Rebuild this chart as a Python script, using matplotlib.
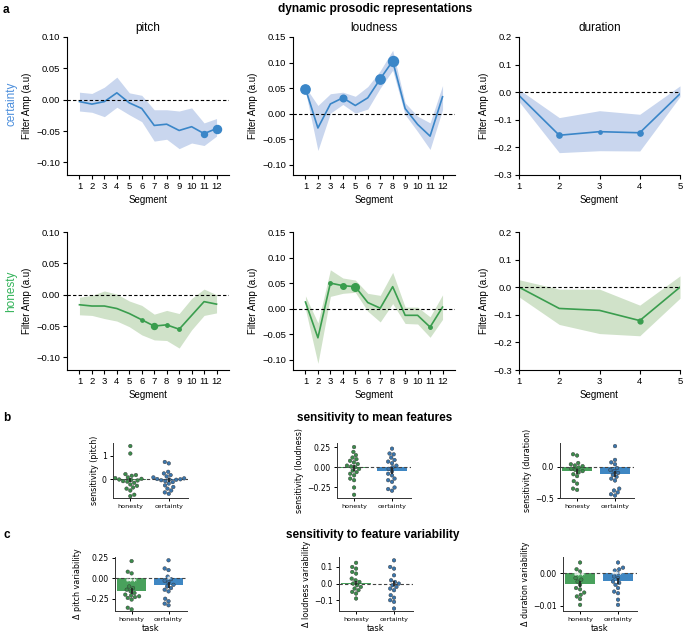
import numpy as np
import pandas as pd
import matplotlib
matplotlib.use('Agg')
import matplotlib.pyplot as plt
import seaborn as sns

# ---------------- data: temporal filters (mean, upper, lower) ----------------
seg12 = np.arange(1, 13)
seg5 = np.arange(1, 6)

cert_pitch = [-0.003, -0.007, -0.003, 0.011, -0.005, -0.014, -0.041, -0.039, -0.049, -0.043, -0.054, -0.046]
cert_pitch_hi = [0.012, 0.010, 0.020, 0.036, 0.011, 0.007, -0.016, -0.016, -0.018, -0.013, -0.037, -0.030]
cert_pitch_lo = [-0.018, -0.020, -0.027, -0.012, -0.024, -0.035, -0.066, -0.063, -0.078, -0.069, -0.073, -0.058]
cert_pitch_sig = {11: 4.3, 12: 5.8}

cert_loud = [0.049, -0.028, 0.019, 0.031, 0.016, 0.031, 0.068, 0.103, 0.010, -0.021, -0.044, 0.033]
cert_loud_hi = [0.052, 0.016, 0.039, 0.042, 0.034, 0.053, 0.084, 0.124, 0.021, -0.005, -0.018, 0.055]
cert_loud_lo = [0.044, -0.072, 0.001, 0.018, 0.001, 0.009, 0.050, 0.085, -0.002, -0.035, -0.070, 0.008]
cert_loud_sig = {1: 6.7, 4: 4.8, 7: 6.7, 8: 7.2}

cert_dur = [-0.012, -0.156, -0.143, -0.147, -0.006]
cert_dur_hi = [0.010, -0.092, -0.067, -0.080, 0.023]
cert_dur_lo = [-0.034, -0.219, -0.212, -0.213, -0.016]
cert_dur_sig = {2: 3.8, 3: 2.4, 4: 3.8}

hon_pitch = [-0.016, -0.018, -0.018, -0.022, -0.030, -0.040, -0.050, -0.048, -0.055, -0.033, -0.011, -0.015]
hon_pitch_hi = [-0.004, -0.001, 0.006, 0.001, -0.010, -0.017, -0.031, -0.025, -0.030, -0.006, 0.009, 0.000]
hon_pitch_lo = [-0.032, -0.033, -0.038, -0.042, -0.051, -0.064, -0.072, -0.073, -0.085, -0.056, -0.033, -0.029]
hon_pitch_sig = {6: 2.4, 7: 4.3, 8: 2.5, 9: 2.5}

hon_loud = [0.013, -0.057, 0.050, 0.045, 0.043, 0.012, 0.001, 0.043, -0.013, -0.013, -0.036, 0.003]
hon_loud_hi = [0.025, -0.028, 0.076, 0.060, 0.056, 0.030, 0.026, 0.071, 0.003, 0.003, -0.016, 0.027]
hon_loud_lo = [-0.001, -0.107, 0.024, 0.030, 0.032, -0.005, -0.026, 0.010, -0.029, -0.030, -0.056, -0.021]
hon_loud_sig = {3: 2.5, 4: 4.0, 5: 5.5, 11: 2.5}

hon_dur = [0.0, -0.077, -0.084, -0.121, 0.0]
hon_dur_hi = [0.027, -0.007, -0.007, -0.065, 0.041]
hon_dur_lo = [-0.035, -0.135, -0.168, -0.176, -0.040]
hon_dur_sig = {4: 3.5}

# ---------------- data: sensitivity (per participant) ----------------
sens_pitch_h = [1.42, 1.10, 0.22, 0.18, 0.15, 0.08, 0.05, 0.02, -0.01, -0.03, -0.05,
                -0.08, -0.10, -0.15, -0.22, -0.28, -0.35, -0.40, -0.48, -0.66, -0.72]
sens_pitch_c = [0.74, 0.68, 0.32, 0.25, 0.18, 0.12, 0.08, 0.04, 0.01, 0.0, -0.01,
                -0.02, -0.04, -0.08, -0.12, -0.18, -0.26, -0.33, -0.40, -0.48, -0.56, -0.62]
sens_loud_h = [0.25, 0.19, 0.15, 0.12, 0.10, 0.08, 0.06, 0.04, 0.02, 0.01, 0.0,
               -0.02, -0.04, -0.06, -0.08, -0.10, -0.14, -0.16, -0.25, -0.34]
sens_loud_c = [0.23, 0.17, 0.16, 0.12, 0.09, 0.07, 0.05, 0.02, 0.0, -0.02, -0.05,
               -0.08, -0.10, -0.14, -0.16, -0.18, -0.25, -0.27, -0.29]
sens_dur_h = [0.20, 0.18, 0.06, 0.04, 0.02, 0.01, -0.01, -0.03, -0.05, -0.07, -0.09,
              -0.12, -0.15, -0.23, -0.27, -0.35, -0.37]
sens_dur_c = [0.33, 0.11, 0.07, 0.04, -0.02, -0.05, -0.07, -0.10, -0.13, -0.16, -0.19,
              -0.22, -0.35, -0.38, -0.41, -0.44, -0.46]
sens_means = {'pitch': [-0.03, -0.03], 'loud': [-0.01, -0.04], 'dur': [-0.07, -0.12]}
sens_errs = {'pitch': [0.10, 0.08], 'loud': [0.04, 0.04], 'dur': [0.04, 0.05]}

var_pitch_h = [0.21, 0.08, 0.06, -0.10, -0.12, -0.14, -0.16, -0.18, -0.20, -0.21,
               -0.22, -0.23, -0.24, -0.26, -0.36, -0.38]
var_pitch_c = [0.22, 0.12, 0.10, 0.02, -0.01, -0.03, -0.05, -0.08, -0.10, -0.12,
               -0.14, -0.16, -0.25, -0.28, -0.31, -0.33]
var_loud_h = [0.125, 0.10, 0.09, 0.07, 0.06, 0.03, 0.02, 0.01, 0.0, -0.01, -0.02,
              -0.03, -0.04, -0.05, -0.06, -0.09]
var_loud_c = [0.14, 0.10, 0.09, 0.05, 0.02, 0.01, 0.0, -0.01, -0.02, -0.03, -0.04,
              -0.07, -0.085, -0.10, -0.11, -0.15]
var_dur_h = [0.0033, 0.0012, 0.0005, -0.0015, -0.002, -0.0026, -0.0036, -0.0046,
             -0.005, -0.006, -0.0067, -0.0072, -0.008, -0.0098]
var_dur_c = [0.0033, 0.0017, 0.0012, 0.0008, 0.0, -0.001, -0.0015, -0.0026, -0.003,
             -0.0036, -0.0046, -0.0057, -0.0062, -0.0082, -0.0098]
var_means = {'pitch': [-0.155, -0.08], 'loud': [0.006, -0.002], 'dur': [-0.0033, -0.0024]}
var_errs = {'pitch': [0.04, 0.04], 'loud': [0.012, 0.015], 'dur': [0.001, 0.0009]}
var_stars = {'pitch': ['***', '*'], 'loud': ['', ''], 'dur': ['***', '***']}

tasks = ['honesty', 'certainty']

# ---------------- style ----------------
plt.rcParams['font.family'] = ['Liberation Sans', 'DejaVu Sans']
plt.rcParams['axes.linewidth'] = 0.8

BLUE, BLUE_F = '#3a86c8', '#c9d6ee'
GREEN, GREEN_F = '#3a9d4e', '#d0e2c9'
BAR_G, BAR_B = '#49a15c', '#3f87c3'
PT_G, PT_B = '#3b8c4b', '#3a76ae'

W, H = 683, 632
fig = plt.figure(figsize=(W / 100, H / 100), dpi=100, facecolor='white')


def box(l, t, r, b):
    return [l / W, 1 - b / H, (r - l) / W, (b - t) / H]


def draw_filter(ax, x, m, hi, lo, sig, color, fill, ylim, yticks, xlim):
    ax.fill_between(x, lo, hi, color=fill, lw=0)
    ax.plot(x, m, color=color, lw=1.2)
    for s, ms in sig.items():
        ax.plot(s, m[s - 1], 'o', color=color, ms=ms)
    ax.axhline(0, color='k', ls='--', lw=0.8, dashes=(3, 2))
    ax.set_xlim(*xlim)
    ax.set_ylim(*ylim)
    ax.set_yticks(yticks)
    ax.set_xticks(x)
    ax.spines[['top', 'right']].set_visible(False)
    ax.tick_params(labelsize=6.8, length=3, pad=2, width=0.8)
    ax.set_ylabel('Filter Amp (a.u)', fontsize=7, labelpad=3)
    ax.set_xlabel('Segment', fontsize=7, labelpad=3)


rows = [
    (37, 175, BLUE, BLUE_F,
     [(cert_pitch, cert_pitch_hi, cert_pitch_lo, cert_pitch_sig),
      (cert_loud, cert_loud_hi, cert_loud_lo, cert_loud_sig),
      (cert_dur, cert_dur_hi, cert_dur_lo, cert_dur_sig)]),
    (232, 370, GREEN, GREEN_F,
     [(hon_pitch, hon_pitch_hi, hon_pitch_lo, hon_pitch_sig),
      (hon_loud, hon_loud_hi, hon_loud_lo, hon_loud_sig),
      (hon_dur, hon_dur_hi, hon_dur_lo, hon_dur_sig)]),
]
cols = [
    (67, 229, seg12, (0, 13), (-0.12, 0.10), [-0.10, -0.05, 0, 0.05, 0.10], 'pitch'),
    (293, 455, seg12, (0, 13), (-0.12, 0.15), [-0.10, -0.05, 0, 0.05, 0.10, 0.15], 'loudness'),
    (519, 680, seg5, (1, 5), (-0.3, 0.2), [-0.3, -0.2, -0.1, 0, 0.1, 0.2], 'duration'),
]

for ri, (t, b, color, fill, series) in enumerate(rows):
    for ci, (l, r, x, xlim, ylim, yticks, name) in enumerate(cols):
        ax = fig.add_axes(box(l, t, r, b))
        m, hi, lo, sig = series[ci]
        draw_filter(ax, x, m, hi, lo, sig, color, fill, ylim, yticks, xlim)
        if ri == 0:
            ax.set_title(name, fontsize=8.5, pad=4)

fig.text(11 / W, 1 - 104 / H, 'certainty', color='#4d8fdc', fontsize=8.5,
         rotation=90, ha='center', va='center')
fig.text(11 / W, 1 - 291 / H, 'honesty', color='#33b35a', fontsize=8.5,
         rotation=90, ha='center', va='center')
fig.text(375 / W, 1 - 9 / H, 'dynamic prosodic representations', fontsize=8.6,
         fontweight='bold', ha='center', va='center')
fig.text(3 / W, 1 - 10 / H, 'a', fontsize=8.5, fontweight='bold', va='center')
fig.text(3 / W, 1 - 418 / H, 'b', fontsize=8.5, fontweight='bold', va='center')
fig.text(3 / W, 1 - 535 / H, 'c', fontsize=8.5, fontweight='bold', va='center')
fig.text(375 / W, 1 - 418 / H, 'sensitivity to mean features', fontsize=8.5,
         fontweight='bold', ha='center', va='center')
fig.text(373 / W, 1 - 535 / H, 'sensitivity to feature variability', fontsize=8.5,
         fontweight='bold', ha='center', va='center')


def draw_sens(ax, h_vals, c_vals, means, errs, ylim, yticks, ylabel, stars, xlabel):
    ax.bar([0, 1], means, width=0.8, color=[BAR_G, BAR_B], zorder=1)
    df = pd.DataFrame({'task': ['honesty'] * len(h_vals) + ['certainty'] * len(c_vals),
                       'val': list(h_vals) + list(c_vals)})
    sns.swarmplot(data=df, x='task', y='val', hue='task', order=tasks,
                  palette={'honesty': PT_G, 'certainty': PT_B}, size=2.6,
                  linewidth=0.3, edgecolor='#333333', legend=False, ax=ax, zorder=3)
    ax.errorbar([0, 1], means, yerr=errs, fmt='none', ecolor='#222222',
                elinewidth=1.2, capsize=0, zorder=4)
    ax.axhline(0, color='#444444', ls='--', lw=0.8, dashes=(3, 2), zorder=2)
    for i, s in enumerate(stars):
        if s:
            ax.text(i, means[i] * 0.3, s, color='white', fontsize=5.5,
                    fontweight='bold', ha='center', va='center', zorder=5,
                    family='DejaVu Sans')
    ax.set_xlim(-0.45, 1.5)
    ax.set_ylim(*ylim)
    ax.set_yticks(yticks)
    ax.set_xticks([0, 1])
    ax.set_xticklabels(tasks, fontsize=4.6, family='DejaVu Sans')
    for lab in ax.get_yticklabels():
        lab.set_family('DejaVu Sans')
    ax.tick_params(axis='y', labelsize=5.6, length=2.5, pad=2, width=0.7)
    ax.tick_params(axis='x', length=2, pad=2, width=0.7)
    ax.spines[['top', 'right']].set_visible(False)
    for sp in ['left', 'bottom']:
        ax.spines[sp].set_color('#333333')
        ax.spines[sp].set_linewidth(0.7)
    ax.set_ylabel(ylabel, fontsize=5.8, family='DejaVu Sans', labelpad=2)
    ax.set_xlabel(xlabel, fontsize=6, family='DejaVu Sans', labelpad=2)


# row b
ax = fig.add_axes(box(113, 443, 188, 498))
draw_sens(ax, sens_pitch_h, sens_pitch_c, sens_means['pitch'], sens_errs['pitch'],
          (-0.8, 1.55), [0, 1], 'sensitivity (pitch)', ['', ''], '')
ax = fig.add_axes(box(337, 443, 411, 498))
draw_sens(ax, sens_loud_h, sens_loud_c, sens_means['loud'], sens_errs['loud'],
          (-0.38, 0.30), [-0.25, 0, 0.25], 'sensitivity (loudness)', ['', ''], '')
ax = fig.add_axes(box(560, 443, 634, 498))
draw_sens(ax, sens_dur_h, sens_dur_c, sens_means['dur'], sens_errs['dur'],
          (-0.5, 0.38), [-0.5, 0.0], 'sensitivity (duration)', ['', ''], '')

# row c
ax = fig.add_axes(box(115, 557, 187, 611))
draw_sens(ax, var_pitch_h, var_pitch_c, var_means['pitch'], var_errs['pitch'],
          (-0.40, 0.26), [-0.25, 0, 0.25], '\u0394 pitch variability', var_stars['pitch'], 'task')
ax = fig.add_axes(box(339, 557, 413, 611))
draw_sens(ax, var_loud_h, var_loud_c, var_means['loud'], var_errs['loud'],
          (-0.165, 0.16), [-0.1, 0, 0.1], '\u0394 loudness variability', var_stars['loud'], 'task')
ax = fig.add_axes(box(563, 557, 637, 611))
draw_sens(ax, var_dur_h, var_dur_c, var_means['dur'], var_errs['dur'],
          (-0.0117, 0.005), [-0.01, 0.0], '\u0394 duration variability', var_stars['dur'], 'task')

fig.savefig('out.png', dpi=100, facecolor='white')
